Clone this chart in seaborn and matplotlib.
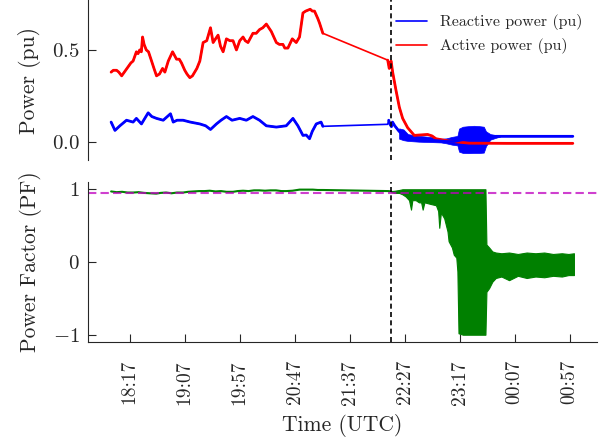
import matplotlib
matplotlib.use("Agg")
import matplotlib.pyplot as plt
import seaborn as sns
import numpy as np

# ---------------- data (minutes after 18:00 UTC) ----------------
tick_minutes = [17, 67, 117, 167, 217, 267, 317, 367, 417]
tick_labels = ["18:17", "19:07", "19:57", "20:47", "21:37",
               "22:27", "23:17", "00:07", "00:57"]
event_minute = 255
pf_limit = 0.95

# Active power (pu)
t_active = [0, 2, 5, 7, 9.6, 12, 15.6, 18, 20, 23,
            24.5, 26, 27.5, 28.6, 30, 32, 34, 36.8, 39, 41.3,
            44, 46.8, 48.9, 52, 55.9, 59.5, 62, 64, 67, 69,
            71.6, 74, 76, 78, 80.7, 83.7, 87, 90.4, 92.8, 95,
            97.3, 99.5, 101.9, 104.9, 108, 110.9, 114, 117, 120, 122,
            124.5, 129, 132, 135, 138, 141.2, 145.7, 150.3, 153, 156.3,
            158, 160.8, 164.8, 168.4, 171.4, 174.5, 177, 181.1, 183, 185,
            188, 189.6, 192.6,
            251.6, 253, 253.8, 254.7, 256.1, 259.2, 262.2, 265.2, 269.7, 275.8,
            280, 287.9, 292, 295.5, 307.6, 325.7, 360, 420]
p_active = [0.38, 0.39, 0.39, 0.38, 0.36, 0.38, 0.41, 0.43, 0.44, 0.49,
            0.48, 0.50, 0.49, 0.57, 0.53, 0.50, 0.49, 0.44, 0.40, 0.36,
            0.37, 0.40, 0.38, 0.44, 0.49, 0.45, 0.45, 0.43, 0.39, 0.37,
            0.35, 0.36, 0.38, 0.40, 0.44, 0.54, 0.55, 0.62, 0.54, 0.56,
            0.58, 0.52, 0.49, 0.56, 0.55, 0.55, 0.50, 0.55, 0.57, 0.55,
            0.54, 0.59, 0.59, 0.61, 0.62, 0.64, 0.60, 0.54, 0.53, 0.53,
            0.51, 0.51, 0.56, 0.54, 0.57, 0.70, 0.71, 0.72, 0.71, 0.71,
            0.67, 0.645, 0.59,
            0.445, 0.40, 0.43, 0.44, 0.38, 0.28, 0.19, 0.13, 0.08, 0.038,
            0.04, 0.043, 0.035, 0.02, 0.007, -0.004, -0.005, -0.005]

# Reactive power (pu)
t_reactive = [0, 3.5, 8, 14, 20, 23, 27.6, 33.7, 37, 41.3,
              47.4, 54, 56.5, 60, 65.5, 72, 80.7, 86, 90.4, 95.8,
              100, 104.9, 110, 117, 123, 129, 135, 141.2, 150.3, 159.3,
              165.4, 169.9, 174.5, 177.5, 180.5, 183, 186.6, 191, 192.6,
              251.6, 252.5, 253.5, 255, 256, 258, 262, 266, 270, 275,
              285, 295, 305, 312, 320, 330, 340, 350, 420]
q_reactive = [0.11, 0.065, 0.09, 0.12, 0.11, 0.13, 0.10, 0.16, 0.14, 0.13,
              0.12, 0.155, 0.11, 0.12, 0.12, 0.11, 0.10, 0.09, 0.07, 0.10,
              0.12, 0.14, 0.12, 0.13, 0.12, 0.14, 0.12, 0.09, 0.083, 0.09,
              0.13, 0.09, 0.038, 0.04, 0.02, 0.06, 0.10, 0.11, 0.087,
              0.098, 0.12, 0.10, 0.085, 0.11, 0.09, 0.06, 0.04, 0.025, 0.015,
              0.015, 0.01, 0.005, 0.005, 0.015, 0.017, 0.02, 0.033, 0.033]

# Reactive power oscillation envelope (pu)
t_q_band = [262, 266, 270, 280, 290, 300, 305, 310, 315, 316.5,
            320, 325, 330, 335, 339, 341, 345, 350, 354]
q_band_hi = [0.076, 0.07, 0.045, 0.035, 0.03, 0.02, 0.022, 0.03, 0.035, 0.075,
             0.085, 0.088, 0.09, 0.088, 0.085, 0.06, 0.045, 0.04, 0.034]
q_band_lo = [0.02, 0.012, 0.008, 0.004, 0.002, 0.0, -0.005, -0.012, -0.016, -0.05,
             -0.057, -0.058, -0.057, -0.057, -0.055, -0.02, 0.015, 0.025, 0.032]

# Power factor before the event
t_pf = [0, 5, 10, 15, 20, 25, 30, 35, 41, 45,
        50, 55, 60, 65.5, 70, 75, 80, 85, 89.7, 95,
        100, 105, 110.9, 115, 120, 125, 130, 135, 140, 145,
        150, 155, 159.3, 165, 171.4, 177, 183.5, 188, 192.6, 252, 255]
pf = [0.97, 0.96, 0.965, 0.955, 0.955, 0.96, 0.95, 0.945, 0.94, 0.95,
      0.955, 0.945, 0.955, 0.955, 0.965, 0.97, 0.975, 0.975, 0.98, 0.97,
      0.975, 0.965, 0.965, 0.975, 0.98, 0.975, 0.985, 0.985, 0.98, 0.985,
      0.985, 0.975, 0.975, 0.98, 0.995, 0.995, 0.995, 0.99, 0.99, 0.975, 0.97]

# Power factor oscillation envelope after the event
t_pf_band = [255, 258, 262, 265, 268, 271, 272.8, 274, 277, 280,
             282, 283.4, 285, 290, 295.5, 297.5, 298.5, 300, 303, 306,
             307, 310, 311.7, 314, 315, 316, 320, 330, 340.5, 341.4,
             343.8, 346.8, 349.9, 355, 362, 370, 378, 386, 394, 402,
             410, 416, 421]
pf_band_hi = [0.975, 0.98, 0.99, 1.0, 1.0, 1.0, 1.0, 1.0, 1.0, 1.0,
              1.0, 1.0, 1.0, 1.0, 1.0, 1.0, 1.0, 1.0, 1.0, 1.0,
              1.0, 1.0, 1.0, 1.0, 1.0, 1.0, 1.0, 1.0, 1.0, 0.24,
              0.2, 0.145, 0.13, 0.12, 0.13, 0.11, 0.13, 0.12, 0.13, 0.11,
              0.12, 0.11, 0.12]
pf_band_lo = [0.96, 0.95, 0.95, 0.93, 0.90, 0.85, 0.72, 0.85, 0.85, 0.82,
              0.82, 0.72, 0.82, 0.80, 0.78, 0.70, 0.47, 0.68, 0.60, 0.42,
              0.285, 0.2, 0.1, 0.06, -0.13, -0.98, -1.0, -1.0, -1.0, -0.41,
              -0.36, -0.27, -0.22, -0.2, -0.25, -0.19, -0.22, -0.2, -0.21, -0.19,
              -0.2, -0.18, -0.18]

# ---------------- style ----------------
sns.set_style("ticks")
plt.rcParams["font.family"] = ["cmr10", "DejaVu Serif"]
plt.rcParams["mathtext.fontset"] = "cm"
plt.rcParams["axes.formatter.use_mathtext"] = True
plt.rcParams["axes.unicode_minus"] = True

fig = plt.figure(figsize=(6.05, 4.38), dpi=100)
ax1 = fig.add_axes([0.1455, 0.6347, 0.8413, 0.3653])
ax2 = fig.add_axes([0.1455, 0.2192, 0.8413, 0.3653], sharex=ax1)

# ---------------- top: power ----------------
sns.lineplot(x=t_reactive, y=q_reactive, ax=ax1, color="blue", lw=1.2,
             estimator=None, sort=False, label="Reactive power (pu)")
ax1.fill_between(t_q_band, q_band_lo, q_band_hi, color="blue", lw=0.5)
sns.lineplot(x=t_active, y=p_active, ax=ax1, color="red", lw=1.2,
             estimator=None, sort=False, label="Active power (pu)")
# thicker noisy parts
n_pre_a = 73
n_pre_q = 39
ax1.plot(t_active[:n_pre_a], p_active[:n_pre_a], color="red", lw=2.0)
ax1.plot(t_active[n_pre_a:], p_active[n_pre_a:], color="red", lw=2.0)
ax1.plot(t_reactive[:n_pre_q], q_reactive[:n_pre_q], color="blue", lw=2.0)
ax1.plot(t_reactive[n_pre_q + 1:], q_reactive[n_pre_q + 1:], color="blue", lw=2.0)
ax1.axvline(event_minute, color="black", ls=(0, (3, 2)), lw=1.2)

ax1.set_ylim(-0.095, 0.77)
ax1.set_yticks([0.0, 0.5])
ax1.set_ylabel("Power (pu)", fontsize=15.5, labelpad=8)
ax1.legend(loc="upper right", frameon=False, fontsize=11.5, handlelength=2.0)
for s in ["top", "right", "bottom"]:
    ax1.spines[s].set_visible(False)
ax1.tick_params(axis="x", bottom=False, labelbottom=False)
ax1.tick_params(axis="y", direction="in", length=6, width=0.8,
                labelsize=15, pad=6)

# ---------------- bottom: power factor ----------------
sns.lineplot(x=t_pf, y=pf, ax=ax2, color="green", lw=1.5,
             estimator=None, sort=False)
ax2.fill_between(t_pf_band, pf_band_lo, pf_band_hi, color="green", lw=0.8)
ax2.axhline(pf_limit, color="m", alpha=0.75, ls=(0, (4, 2)), lw=1.5)
ax2.axvline(event_minute, color="black", ls=(0, (3, 2)), lw=1.2)

ax2.set_ylim(-1.1, 1.1)
ax2.set_yticks([-1, 0, 1])
ax2.set_xlim(-21, 442)
ax2.set_xticks(tick_minutes)
ax2.set_xticklabels(tick_labels, rotation=90)
ax2.set_ylabel("Power Factor (PF)", fontsize=15.5, labelpad=8)
ax2.set_xlabel("Time (UTC)", fontsize=15.5, labelpad=7)
for s in ["top", "right"]:
    ax2.spines[s].set_visible(False)
ax2.tick_params(axis="both", direction="in", length=6, width=0.8)
ax2.tick_params(axis="y", labelsize=15, pad=6)
ax2.tick_params(axis="x", labelsize=14, pad=13)

for ax in (ax1, ax2):
    for s in ax.spines.values():
        s.set_linewidth(0.8)

fig.savefig("out.png", dpi=100)
